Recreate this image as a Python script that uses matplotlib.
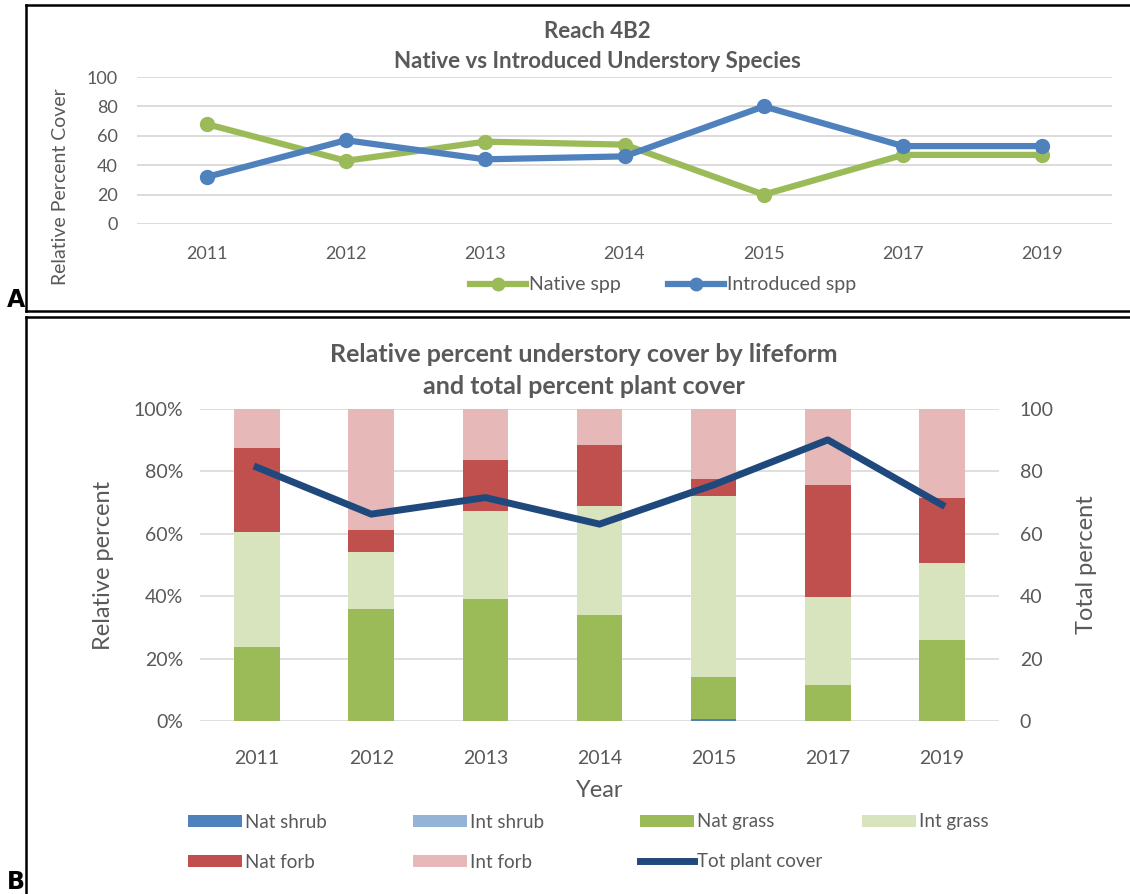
import matplotlib.pyplot as plt
from matplotlib.lines import Line2D
from matplotlib.patches import Patch
import numpy as np

plt.rcParams['font.family'] = ['Lato', 'DejaVu Sans']

# ---- data ----
years = ['2011', '2012', '2013', '2014', '2015', '2017', '2019']

# panel A
native_spp = [68, 43, 56, 54, 20, 47, 47]
introduced_spp = [32, 57, 44, 46, 80, 53, 53]

# panel B (relative percent, stacked)
nat_shrub = [0, 0, 0, 0, 0.6, 0, 0]
int_shrub = [0, 0, 0, 0, 0, 0, 0]
nat_grass = [23.8, 36.0, 39.1, 34.0, 13.6, 11.5, 25.9]
int_grass = [36.8, 18.1, 28.3, 34.9, 57.8, 28.2, 24.6]
nat_forb = [26.8, 7.1, 16.4, 19.5, 5.6, 35.9, 21.0]
int_forb = [12.6, 38.8, 16.2, 11.6, 22.4, 24.4, 28.5]
tot_cover = [81.3, 66.3, 71.6, 63.1, 75.7, 90.1, 69.3]

GRAY = '#595959'
GRID = '#d9d9d9'

fig = plt.figure(figsize=(11.3, 8.94), dpi=100)
W, H = 1130, 894


def fx(px):
    return px / W


def fy(py):
    return 1 - py / H


# panel frames
frame = dict(color='black', lw=1.8, transform=fig.transFigure)
fig.add_artist(Line2D([fx(26), fx(1129)], [fy(4.5), fy(4.5)], **frame))
fig.add_artist(Line2D([fx(26), fx(26)], [fy(4.5), fy(311)], **frame))
fig.add_artist(Line2D([fx(26), fx(1129)], [fy(311), fy(311)], **frame))
fig.add_artist(Line2D([fx(26), fx(1129)], [fy(317), fy(317)], **frame))
fig.add_artist(Line2D([fx(26), fx(26)], [fy(317), fy(894)], **frame))
fig.text(fx(7), fy(312), 'A', fontsize=17, fontweight='bold', family='DejaVu Sans', va='bottom')
fig.text(fx(7), fy(894), 'B', fontsize=17, fontweight='bold', family='DejaVu Sans', va='bottom')

# ---- panel A ----
x = np.arange(len(years))
axA = fig.add_axes([fx(137), fy(224), fx(1112 - 137), (224 - 77) / H])
lnN, = axA.plot(x, native_spp, color='#9bbb59', lw=4.5, marker='o', ms=10, label='Native spp')
lnI, = axA.plot(x, introduced_spp, color='#4f81bd', lw=4.5, marker='o', ms=10, label='Introduced spp')
axA.set_xlim(-0.5, len(years) - 0.5)
axA.set_ylim(0, 100)
axA.set_yticks(range(0, 101, 20))
axA.set_xticks(x)
axA.set_xticklabels(years)
axA.grid(axis='y', color=GRID, lw=1.3)
axA.set_axisbelow(True)
for s in axA.spines.values():
    s.set_visible(False)
axA.tick_params(length=0, labelsize=13, colors=GRAY, pad=14)
axA.tick_params(axis='x', pad=16)
fig.text(fx(60), fy(187), 'Relative Percent Cover', rotation=90, ha='center', va='center',
         fontsize=14, color=GRAY)
fig.text(fx(597), fy(32), 'Reach 4B2', ha='center', va='center', fontsize=16,
         fontweight='bold', color=GRAY)
fig.text(fx(597), fy(62), 'Native vs Introduced Understory Species', ha='center', va='center',
         fontsize=16, fontweight='bold', color=GRAY)

leg_kw = dict(loc='center left', frameon=False, labelcolor=GRAY, borderpad=0,
              borderaxespad=0, handletextpad=0.15)
for h, px in [(lnN, 470), (lnI, 668)]:
    fig.legend(handles=[h], bbox_to_anchor=(fx(px), fy(285)), fontsize=14,
               handlelength=2.9, markerscale=0.9, **leg_kw)

# ---- panel B ----
axB = fig.add_axes([fx(200), fy(721), fx(999 - 200), (721 - 409) / H])
bw = 0.4
series = [
    (nat_shrub, '#4f81bd', 'Nat shrub'),
    (int_shrub, '#95b3d7', 'Int shrub'),
    (nat_grass, '#9bbb59', 'Nat grass'),
    (int_grass, '#d7e4bd', 'Int grass'),
    (nat_forb, '#c0504d', 'Nat forb'),
    (int_forb, '#e6b9b8', 'Int forb'),
]
bottom = np.zeros(len(years))
handles = []
for vals, col, lab in series:
    v = np.array(vals) / 100.0
    axB.bar(x, v, bw, bottom=bottom, color=col, label=lab, zorder=2)
    bottom += v
    handles.append(Patch(facecolor=col, label=lab))
axB.set_xlim(-0.5, len(years) - 0.5)
axB.set_ylim(0, 1)
axB.set_yticks(np.linspace(0, 1, 6))
axB.set_yticklabels([f'{int(v)}%' for v in np.linspace(0, 100, 6)])
axB.set_xticks(x)
axB.set_xticklabels(years)
axB.grid(axis='y', color=GRID, lw=1.2, zorder=0)
axB.set_axisbelow(True)
for s in axB.spines.values():
    s.set_visible(False)
axB.tick_params(length=0, labelsize=14, colors=GRAY, pad=12)
axB.tick_params(axis='x', pad=21)
axB.set_ylabel('Relative percent', fontsize=17, color=GRAY, labelpad=14)
axB.set_xlabel('Year', fontsize=17, color=GRAY, labelpad=9)

axR = axB.twinx()
line, = axR.plot(x, tot_cover, color='#1f497d', lw=5, label='Tot plant cover', zorder=3)
axR.set_ylim(0, 100)
axR.set_yticks(range(0, 101, 20))
for s in axR.spines.values():
    s.set_visible(False)
axR.tick_params(length=0, labelsize=14, colors=GRAY, pad=15)
axR.set_ylabel('Total percent', fontsize=17, color=GRAY, labelpad=16)

fig.text(fx(584), fy(355), 'Relative percent understory cover by lifeform', ha='center',
         va='center', fontsize=18, fontweight='bold', color=GRAY)
fig.text(fx(584), fy(386), 'and total percent plant cover', ha='center',
         va='center', fontsize=18, fontweight='bold', color=GRAY)

handles.append(Line2D([0], [0], color='#1f497d', lw=5, label='Tot plant cover'))
slots = [(188, 822), (413, 822), (640, 822), (862, 822),
         (188, 862), (413, 862), (640, 862)]
for h, (px, py) in zip(handles, slots):
    fig.legend(handles=[h], bbox_to_anchor=(fx(px), fy(py)), fontsize=13.5,
               handlelength=2.9, handleheight=0.55, **leg_kw)

fig.savefig('out.png', dpi=100)
